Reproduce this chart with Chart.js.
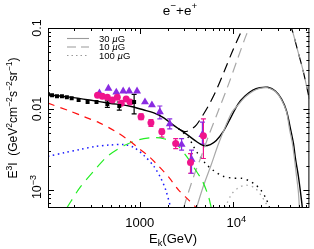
<!DOCTYPE html>
<html><head><meta charset="utf-8">
<script src="https://cdn.jsdelivr.net/npm/chart.js@4/dist/chart.umd.min.js"></script>
<style>html,body{margin:0;padding:0;background:#fff}#c{display:block}</style>
</head><body>
<canvas id="c" width="314" height="249"></canvas>
<script>
// ---------- data (E in GeV, E^3 I in GeV^2 cm^-2 s^-1 sr^-1) ----------
const E_SQ = [105,116,131,148,167,188,223,278,346,452,606,873];
const I_SQ = [0.0152,0.0148,0.0144,0.0144,0.0140,0.0136,0.0129,0.0122,0.0122,0.0115,0.0109,0.0122];
const LO_SQ = [null,null,null,null,null,null,null,null,null,0.0105,0.0097,0.0087];
const HI_SQ = [null,null,null,null,null,null,null,null,null,0.0126,0.0122,0.0152];

const E_CI = [355,400,452,510,577,636,718,791,1035,1320,1725,2427,3493,4796];
const I_CI = [0.0148,0.0144,0.0140,0.0129,0.0140,0.0118,0.01325,0.0122,0.0080,0.00675,0.00525,0.00374,0.00219,0.00469];
const LO_CI = [null,null,null,null,null,null,null,null,0.0074,0.0061,0.0045,0.00325,0.00161,0.00245];
const HI_CI = [null,null,null,null,null,null,null,null,0.0087,0.0074,0.0057,0.0043,0.00282,0.00755];

const E_TR = [372,464,563,667,773,938,1140,1352,1643,2096,2805,3580,4680];
const I_TR = [0.0157,0.0180,0.0161,0.0166,0.0166,0.0166,0.0122,0.0112,0.0092,0.00656,0.00364,0.00239,0.00482];
const LO_TR = [null,null,null,null,null,null,null,null,0.00755,0.0057,0.0031,0.00161,0.0037];
const HI_TR = [null,null,null,null,null,null,null,null,0.0109,0.00755,0.0043,0.0031,0.0069];

// total, 30 uG
const E_T30 = [105,179,292,475,773,1112,1419,1811,2199,2608,3327,4045,4796,5690,6580,7800,9250,11240,13340,16200,19190,23330,28330,32800,37050,40830,43950,46140,49570,52040,54690];
const I_T30 = [0.01503,0.0140,0.0129,0.0118,0.0109,0.00973,0.00894,0.00776,0.00656,0.0057,0.00469,0.00397,0.00354,0.00364,0.00408,0.00525,0.00755,0.0115,0.01442,0.01706,0.01829,0.01854,0.0166,0.01325,0.00946,0.0057,0.00374,0.00245,0.00148,0.000973,0.000603];
// pulsar component, 30 uG
const E_P30 = [4045,4796,5824,6907,8390,9700,11240,13340,16200,19190,23330,28330,32800,37050,39800,42820,44990,47210,49570,50830];
const I_P30 = [0.000603,0.00112,0.00207,0.00364,0.00638,0.0092,0.0112,0.0140,0.0166,0.0180,0.01829,0.01634,0.0129,0.0092,0.0057,0.00374,0.00245,0.00152,0.000946,0.000603];
// total, 10 uG
const E_T10 = [2608,3019,3493,4045,4680,5414,6580,7990,9950,12690,16590,23330,32800,41780,48430,55980,64900];
const I_T10 = [0.0057,0.00525,0.00554,0.00638,0.00822,0.0109,0.01706,0.0290,0.054,0.1,0.19,0.25,0.19,0.1,0.054,0.029,0.01325];
// pulsar component, 10 uG
const E_P10 = [2946,3327,3852,4460,5414,6907,8811,11240,13650,16200,23330,32800,41780,48430,55980,64900];
const I_P10 = [0.000603,0.000946,0.00157,0.00245,0.00456,0.00946,0.0196,0.0431,0.0799,0.125,0.23,0.19,0.1,0.054,0.029,0.01325];
// total, 100 uG
const E_T100 = [2608,3327,3759,4244,5157,6109,7800,9950,12090,14340,16990,19670,22220,24490];
const I_T100 = [0.0057,0.00443,0.00344,0.00275,0.00207,0.00175,0.00148,0.0014,0.0014,0.00132,0.00118,0.001,0.0008,0.000603];
// pulsar component, 100 uG
const E_P100 = [8180,9480,11240,13650,16990,19670,22220,23880];
const I_P100 = [0.000603,0.000869,0.00106,0.00115,0.00106,0.000869,0.000693,0.000603];
// background components
const E_RED = [105,179,258,372,536,773,985,1256,1603,2045,2608,3327,4045];
const I_RED = [0.0118,0.00946,0.0080,0.00675,0.0054,0.00408,0.00325,0.0026,0.00196,0.00144,0.001,0.000755,0.000603];
const E_GRN = [167,229,329,452,684,985,1419,1811,2427,3170,3852,4680,5414,5824];
const I_GRN = [0.000603,0.00106,0.00175,0.0026,0.00354,0.00419,0.00443,0.0043,0.00374,0.0026,0.00185,0.00129,0.000845,0.000603];
const E_BLU = [105,159,229,329,475,684,873,1112,1419,1683,1900,2148];
const I_BLU = [0.0026,0.0029,0.00316,0.00344,0.00359,0.00364,0.00334,0.00267,0.00196,0.0014,0.001,0.000603];

const X_MIN = 105, X_MAX = 65000, Y_MIN = 0.000638, Y_MAX = 0.1;
const X_LABELS = [[1000,'1000',null],[10000,'10','4']];
const Y_LABELS = [[0.1,'0.1',null],[0.01,'0.01',null],[0.001,'10','\u22123']];

const pts = (xs, ys) => xs.map((x, i) => ({x, y: ys[i]}));
const FONT = '"Liberation Sans", Arial, sans-serif';

function line(xs, ys, color, dash, w) {
  return {type:'line', data: pts(xs, ys), borderColor: color, borderWidth: w || 1.2,
    borderDash: dash || [], pointRadius: 0, tension: 0.3, fill: false, order: 2};
}
function marks(xs, ys, color, style, r) {
  return {type:'scatter', data: pts(xs, ys), backgroundColor: color, borderColor: color,
    pointStyle: style, pointRadius: r, borderWidth: 0, order: 1};
}

const datasets = [
  line(E_RED, I_RED, '#ff1010', [7,6]),
  line(E_GRN, I_GRN, '#22ee22', [10,7]),
  line(E_BLU, I_BLU, '#1a1aff', [1.5,3.5], 1.5),
  line(E_P30, I_P30, '#a8a8a8', []),
  line(E_P10, I_P10, '#a8a8a8', [10,6]),
  line(E_P100, I_P100, '#a8a8a8', [1.5,4], 1.3),
  line(E_T100, I_T100, '#000', [1.5,4.5], 1.4),
  line(E_T10, I_T10, '#000', [10,6]),
  line(E_T30, I_T30, '#000', [], 1.4),
  marks(E_SQ, I_SQ, '#000', 'rect', 2.8),
  marks(E_CI, I_CI, '#f0148c', 'circle', 3.5),
  marks(E_TR, I_TR, '#8a2be2', 'triangle', 4.6),
];

const ERR = [[E_SQ, LO_SQ, HI_SQ, '#000'], [E_CI, LO_CI, HI_CI, '#f0148c'], [E_TR, LO_TR, HI_TR, '#8a2be2']];

function rich(ctx, parts, x, y, align, size) {
  let w = 0;
  const fontOf = p => (p.it ? 'italic ' : '') + (p.sup || p.sub ? size * 0.72 : size) + 'px ' + FONT;
  parts.forEach(p => { ctx.font = fontOf(p); p.w = ctx.measureText(p.t).width; w += p.w; });
  let cx = align === 'center' ? x - w / 2 : (align === 'right' ? x - w : x);
  ctx.textAlign = 'left'; ctx.textBaseline = 'alphabetic';
  parts.forEach(p => {
    ctx.font = fontOf(p);
    const dy = p.sup ? -size * 0.42 : (p.sub ? size * 0.25 : 0);
    ctx.fillText(p.t, cx, y + dy); cx += p.w;
  });
}

const deco = {
  id: 'deco',
  beforeDatasetsDraw(chart) {
    const {ctx, scales: {x, y}} = chart;
    ctx.save();
    ctx.beginPath(); ctx.rect(chart.chartArea.left, chart.chartArea.top, chart.chartArea.width, chart.chartArea.height); ctx.clip();
    ERR.forEach(([xs, lo, hi, c]) => {
      ctx.strokeStyle = c; ctx.lineWidth = 1.2;
      xs.forEach((e, i) => {
        if (lo[i] == null) return;
        const px = x.getPixelForValue(e), p1 = y.getPixelForValue(lo[i]), p2 = y.getPixelForValue(hi[i]);
        ctx.beginPath();
        ctx.moveTo(px, p1); ctx.lineTo(px, p2);
        ctx.moveTo(px - 2.5, p1); ctx.lineTo(px + 2.5, p1);
        ctx.moveTo(px - 2.5, p2); ctx.lineTo(px + 2.5, p2);
        ctx.stroke();
      });
    });
    ctx.restore();
  },
  afterDraw(chart) {
    const {ctx, chartArea: a, scales: {x, y}} = chart;
    ctx.save();
    ctx.strokeStyle = '#000'; ctx.lineWidth = 1;
    ctx.strokeRect(a.left + 0.5, a.top + 0.5, a.width - 1, a.height - 1);
    ctx.beginPath();
    for (let k = 2; k <= 4; k++) for (let m = 1; m <= 9; m++) {
      const v = m * Math.pow(10, k);
      if (v < X_MIN || v > X_MAX) continue;
      const px = Math.round(x.getPixelForValue(v)) + 0.5, L = m === 1 ? 6 : 3;
      ctx.moveTo(px, a.bottom); ctx.lineTo(px, a.bottom - L);
      ctx.moveTo(px, a.top); ctx.lineTo(px, a.top + L);
    }
    for (let k = -4; k <= -1; k++) for (let m = 1; m <= 9; m++) {
      const v = m * Math.pow(10, k);
      if (v < Y_MIN || v > Y_MAX * 1.0001) continue;
      const py = Math.round(y.getPixelForValue(v)) + 0.5, L = m === 1 ? 6 : 3;
      ctx.moveTo(a.left, py); ctx.lineTo(a.left + L, py);
      ctx.moveTo(a.right, py); ctx.lineTo(a.right - L, py);
    }
    ctx.stroke();

    ctx.fillStyle = '#000';
    // x tick labels
    X_LABELS.forEach(([v, t, s]) => {
      const px = x.getPixelForValue(v);
      const parts = [{t}]; if (s) parts.push({t: s, sup: true});
      rich(ctx, parts, px + (s ? 3 : 0), 227, 'center', 13);
    });
    // y tick labels (rotated)
    Y_LABELS.forEach(([v, t, s]) => {
      const py = y.getPixelForValue(v);
      ctx.save(); ctx.translate(41, py); ctx.rotate(-Math.PI / 2);
      const parts = [{t}]; if (s) parts.push({t: s, sup: true});
      rich(ctx, parts, s ? 3 : 0, 0, 'center', 12.5);
      ctx.restore();
    });
    // title
    rich(ctx, [{t:'e'},{t:'\u2212',sup:true},{t:'+e'},{t:'+',sup:true}], 180, 15, 'center', 13.5);
    // x title
    rich(ctx, [{t:'E'},{t:'k',sub:true},{t:'(GeV)'}], 173, 243, 'center', 13);
    // y title
    ctx.save(); ctx.translate(17, 118); ctx.rotate(-Math.PI / 2);
    rich(ctx, [{t:'E'},{t:'3',sup:true},{t:'I  (GeV'},{t:'2',sup:true},{t:'cm'},{t:'\u22122',sup:true},
      {t:'s'},{t:'\u22122',sup:true},{t:'sr'},{t:'\u22121',sup:true},{t:')'}], 0, 0, 'center', 12);
    ctx.restore();
    // legend
    const leg = [['30 ', [], 38.5], ['10 ', [9,5], 47], ['100 ', [1.5,3], 55.5]];
    leg.forEach(([t, d, yy]) => {
      ctx.strokeStyle = '#9a9a9a'; ctx.lineWidth = 1.1; ctx.setLineDash(d);
      ctx.beginPath(); ctx.moveTo(67, yy); ctx.lineTo(89, yy); ctx.stroke();
      ctx.setLineDash([]);
      rich(ctx, [{t}, {t:'\u00b5', it:true}, {t:'G'}], 99, yy + 3.2, 'left', 9.5);
    });
    ctx.restore();
  }
};

new Chart(document.getElementById('c'), {
  data: {datasets},
  options: {
    responsive: false, animation: false, devicePixelRatio: 1,
    layout: {padding: {left: 0, right: 2, top: 28, bottom: 0}},
    plugins: {legend: {display: false}, tooltip: {enabled: false}, title: {display: false}},
    scales: {
      x: {type: 'logarithmic', min: X_MIN, max: X_MAX, grid: {display: false}, border: {display: false},
          ticks: {display: false}, afterFit: s => { s.height = 41; }},
      y: {type: 'logarithmic', min: Y_MIN, max: Y_MAX, grid: {display: false}, border: {display: false},
          ticks: {display: false}, afterFit: s => { s.width = 48; }}
    }
  },
  plugins: [deco]
});
</script>
</body></html>
